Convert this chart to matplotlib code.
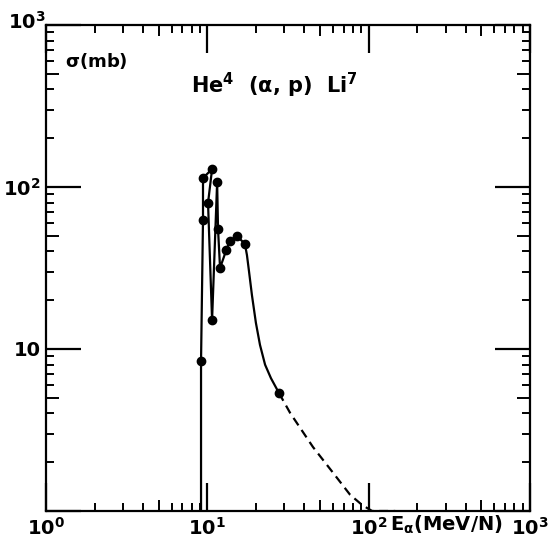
import matplotlib.pyplot as plt
from matplotlib.ticker import FixedLocator, NullFormatter

# measured points (E in MeV/N, sigma in mb)
energy_pts = [9.14, 9.40, 9.40, 10.7, 10.1, 10.7, 11.5, 11.65, 11.99, 13.1, 13.8, 15.3, 17.1, 27.8]
sigma_pts = [8.43, 62.6, 113.7, 129, 79.7, 15.1, 107, 55, 31.6, 40.8, 46.4, 49.8, 44.5, 5.35]

# solid curve through the points
energy_solid = [9.14, 9.14, 9.40, 9.40, 10.7, 10.1, 10.7, 11.5, 11.65, 11.99, 13.1, 13.8, 15.3, 17.1,
                17.6, 18.1, 18.9, 20.0, 21.2, 22.8, 24.8, 27.8]
sigma_solid = [1.0, 8.43, 62.6, 113.7, 129, 79.7, 15.1, 107, 55, 31.6, 40.8, 46.4, 49.8, 44.5,
               38, 30.5, 21.5, 14.5, 10.6, 8.0, 6.6, 5.35]

# dashed extrapolation
energy_dash = [27.8, 32.6, 45.2, 60.2, 76.7, 91, 105, 146]
sigma_dash = [5.35, 4.03, 2.48, 1.72, 1.26, 1.09, 1.0, 1.0]

x_ticks = [1, 10, 100, 1000]
x_labels = ["$10^0$", "$10^1$", "$10^2$", "$10^3$"]
y_ticks = [1, 10, 100, 1000]
y_labels = ["", "10", "$10^2$", "$10^3$"]

plt.rcParams['font.family'] = 'DejaVu Sans'
plt.rcParams['font.weight'] = 'bold'
plt.rcParams['mathtext.default'] = 'bf'

fig = plt.figure(figsize=(5.5, 5.45), dpi=100)
ax = fig.add_axes([46 / 550, 1 - 511 / 545, 484 / 550, 486 / 545])
ax.set_xscale('log')
ax.set_yscale('log')
ax.set_xlim(1, 1000)
ax.set_ylim(1, 1000)

ax.plot(energy_solid, sigma_solid, color='black', lw=1.6, solid_joinstyle='round')
ax.plot(energy_dash, sigma_dash, color='black', lw=1.6, ls=(0, (4, 2.5)))
ax.plot(energy_pts, sigma_pts, 'o', color='black', ms=6)

for s in ax.spines.values():
    s.set_linewidth(1.6)

# ticks: decades long, 2..9 short, 5 medium
minor = [m * 10 ** d for d in range(3) for m in (2, 3, 4, 6, 7, 8, 9)]
ax.xaxis.set_major_locator(FixedLocator(x_ticks))
ax.yaxis.set_major_locator(FixedLocator(y_ticks))
ax.xaxis.set_minor_locator(FixedLocator(minor))
ax.yaxis.set_minor_locator(FixedLocator(minor))
ax.xaxis.set_minor_formatter(NullFormatter())
ax.yaxis.set_minor_formatter(NullFormatter())
ax.set_xticklabels(x_labels)
ax.set_yticklabels(y_labels)
ax.tick_params(axis='x', which='major', direction='in', length=20, width=1.6,
               top=True, bottom=True, labelsize=14, pad=4)
ax.tick_params(axis='y', which='major', direction='in', length=25, width=1.6,
               left=True, right=True, labelsize=14, pad=4)
ax.tick_params(which='minor', direction='in', length=6, width=1.4,
               top=True, bottom=True, left=True, right=True)

fives = [5, 50, 500]
ax.vlines(fives, 0, 0.022, transform=ax.get_xaxis_transform(), color='black', lw=1.4)
ax.vlines(fives, 0.978, 1, transform=ax.get_xaxis_transform(), color='black', lw=1.4)
ax.hlines(fives, 0, 0.026, transform=ax.get_yaxis_transform(), color='black', lw=1.4)
ax.hlines(fives, 0.974, 1, transform=ax.get_yaxis_transform(), color='black', lw=1.4)

# hide the 10^3 y label, put it at the top-left corner like the original
ax.get_yticklabels()[-1].set_visible(False)
fig.text(8 / 550, 1 - 22 / 545, "$10^3$", fontsize=14, ha='left', va='center')

ax.text(0.04, 0.925, r"$\sigma$(mb)", transform=ax.transAxes, fontsize=13, va='center')
ax.text(0.3, 0.875, r"He$^4$  ($\alpha$, p)  Li$^7$", transform=ax.transAxes, fontsize=15, va='center')

fig.text(390 / 550, 1 - 525 / 545, r"E$_\alpha$(MeV/N)", fontsize=14, ha='left', va='center')

fig.savefig('out.png', dpi=100)
